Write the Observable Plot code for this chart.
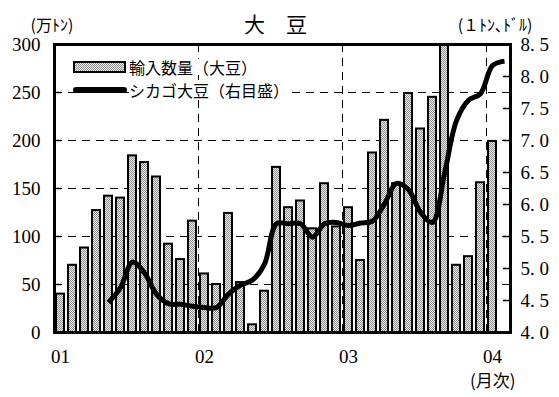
<!DOCTYPE html>
<html><head><meta charset="utf-8">
<script src="https://cdn.jsdelivr.net/npm/d3@7"></script>
<script src="https://cdn.jsdelivr.net/npm/@observablehq/plot@0.6"></script>
<style>
body{margin:0;background:#fff;}
#wrap{position:relative;width:559px;height:397px;}
.leg{position:absolute;left:72px;font-family:"Noto Sans CJK JP",sans-serif;font-size:16px;color:#000;display:flex;align-items:center;line-height:1;}
.leg span{background:#fff;margin-left:1px;}
</style></head><body>
<svg width="0" height="0" style="position:absolute">
<defs><pattern id="dots" width="2" height="2" patternUnits="userSpaceOnUse">
<rect width="2" height="2" fill="#ebebeb"/><rect width="1" height="1" fill="#909090"/><rect x="1" y="1" width="1" height="1" fill="#909090"/></pattern></defs></svg>
<div id="wrap"></div>
<script>
// categories: month index from Jan 2001; January positions of each year
const yearLabels = ["01", "02", "03", "04"];
const yearStart = [0, 12, 24, 36];
// 輸入数量（大豆）, 万トン, Jan 2001 .. Jan 2004
const imports = [40, 70, 88, 127, 142, 140, 184, 177, 162, 92, 76, 116,
                 61, 50, 124, 52, 8, 43, 172, 130, 137, 108, 155, 110,
                 130, 75, 187, 221, 155, 249, 212, 245, 300, 70, 79, 156,
                 199];
// シカゴ大豆（右目盛）, starts May 2001 (index 4) .. Feb 2004
const chicagoStart = 4;
const chicago = [4.47, 4.70, 5.10, 4.93, 4.60, 4.45, 4.44, 4.41,
                 4.39, 4.39, 4.60, 4.74, 4.82, 5.07, 5.70, 5.70, 5.70, 5.49, 5.70, 5.72,
                 5.67, 5.71, 5.74, 6.01, 6.33, 6.23, 5.88, 5.72, 6.48, 7.31, 7.63, 7.73,
                 8.17, 8.24];
const leftTicks = [0, 50, 100, 150, 200, 250, 300];
const rightTicks = [4.0, 4.5, 5.0, 5.5, 6.0, 6.5, 7.0, 7.5, 8.0, 8.5];
const seriesNames = ["輸入数量（大豆）", "シカゴ大豆（右目盛）"];
const titleText = "大　豆";
const leftUnit = "(万ﾄﾝ)";
const rightUnit = "(１ﾄﾝ､ﾄﾞﾙ)";
const xUnit = "(月次)";

const rMin = 4.0, rMax = 8.5, lMax = 300;
const toLeft = v => (v - rMin) / (rMax - rMin) * lMax;
const fromLeft = v => rMin + v * (rMax - rMin) / lMax;

const barData = imports.map((v, i) => ({i, v}));
const lineData = chicago.map((v, k) => ({i: k + chicagoStart, v}));

const serif = '"Liberation Serif","DejaVu Serif",serif';
const jp = '"Noto Sans CJK JP",sans-serif';

const chart = Plot.plot({
  width: 559, height: 397,
  marginLeft: 54, marginRight: 49, marginTop: 44, marginBottom: 65,
  style: {fontFamily: serif, fontSize: "19px", color: "#000", background: "#fff", overflow: "visible"},
  x: {type: "linear", domain: [0, 38]},
  y: {domain: [0, 300]},
  marks: [
    Plot.ruleY(leftTicks.filter(t => t > 0 && t < 300), {y: d => d, stroke: "#000", strokeWidth: 1, strokeDasharray: "8,6"}),
    Plot.ruleX(yearStart.filter(t => t > 0), {x: d => d, stroke: "#000", strokeWidth: 1, strokeDasharray: "8,6"}),
    Plot.rectY(barData, {x1: "i", x2: d => d.i + 1, y: "v", fill: "url(#dots)", stroke: "#000", strokeWidth: 2, insetLeft: 2, insetRight: 2}),
    Plot.line(lineData, {x: d => d.i + 0.5, y: d => toLeft(d.v), stroke: "#000", strokeWidth: 5, curve: "catmull-rom", strokeLinecap: "butt"}),
    Plot.tickY(leftTicks, {y: d => d, stroke: "#000", strokeWidth: 1.5, insetRight: 449}),
    Plot.tickY(rightTicks, {y: d => toLeft(d), stroke: "#000", strokeWidth: 1.5, insetLeft: 449}),
    Plot.axisY(leftTicks, {anchor: "left", label: null, tickSize: 0, tickPadding: 14, fontSize: 19}),
    Plot.axisY(rightTicks.map(toLeft), {anchor: "right", label: null, tickSize: 0, tickPadding: 10, fontSize: 19,
      tickFormat: d => fromLeft(d).toFixed(1).replace(".", ". ")}),
    Plot.axisX(yearStart.map(s => s + 0.5), {anchor: "bottom", label: null, tickSize: 0, tickPadding: 17, fontSize: 19,
      tickFormat: d => yearLabels[yearStart.indexOf(Math.round(d - 0.5))]}),
    Plot.text([titleText], {text: d => d, frameAnchor: "top", dx: -7, dy: -27, fontFamily: jp, fontSize: 21}),
    Plot.text([leftUnit], {text: d => d, frameAnchor: "top-left", textAnchor: "start", dx: -24, dy: -25, fontFamily: jp, fontSize: 16}),
    Plot.text([rightUnit], {text: d => d, frameAnchor: "top-right", textAnchor: "end", dx: 22, dy: -25, fontFamily: jp, fontSize: 16}),
    Plot.text([xUnit], {text: d => d, frameAnchor: "bottom-right", textAnchor: "end", dx: 5, dy: 54, fontFamily: jp, fontSize: 17}),
    Plot.frame({stroke: "#000", strokeWidth: 3})
  ]
});
const wrap = document.getElementById("wrap");
wrap.appendChild(chart);

// legend
const swatches = [
  '<svg width="56" height="14"><rect x="2" y="2" width="51" height="10" fill="url(#dots)" stroke="#000" stroke-width="2"/></svg>',
  '<svg width="56" height="14"><line x1="4" y1="7" x2="52" y2="7" stroke="#000" stroke-width="6" stroke-linecap="round"/></svg>'
];
const legTops = [59, 82];
seriesNames.forEach((name, k) => {
  const div = document.createElement("div");
  div.className = "leg";
  div.style.top = legTops[k] + "px";
  div.innerHTML = swatches[k] + "<span>" + name + "</span>";
  wrap.appendChild(div);
});
</script>
</body></html>
